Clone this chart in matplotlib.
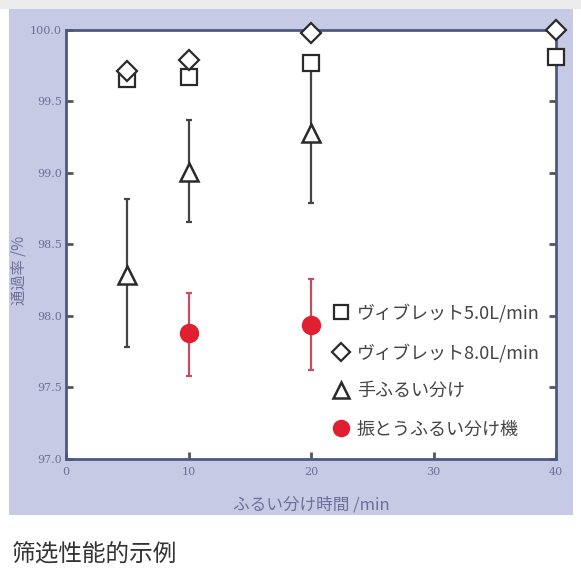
import matplotlib
matplotlib.use("Agg")
import matplotlib.pyplot as plt
from matplotlib.patches import Rectangle
import numpy as np

plt.rcParams['font.family'] = ['Noto Sans CJK JP', 'DejaVu Sans']

# data
x_sq = [5, 10, 20, 40]
y_sq = [99.66, 99.67, 99.77, 99.81]

x_di = [5, 10, 20, 40]
y_di = [99.71, 99.79, 99.98, 100.0]

x_tri = [5, 10, 20]
y_tri = [98.29, 99.01, 99.28]
tri_lo = [97.78, 98.66, 98.79]
tri_hi = [98.82, 99.37, 99.80]

x_red = [10, 20]
y_red = [97.88, 97.94]
red_lo = [97.58, 97.62]
red_hi = [98.16, 98.26]

x_ticks = [0, 10, 20, 30, 40]
y_ticks = [97.0, 97.5, 98.0, 98.5, 99.0, 99.5, 100.0]

labels = ['ヴィブレット5.0L/min', 'ヴィブレット8.0L/min', '手ふるい分け', '振とうふるい分け機']

W, H = 581, 576
fig = plt.figure(figsize=(W / 100, H / 100), dpi=100)
fig.patch.set_facecolor('white')

# background bands
fig.add_artist(Rectangle((0, 1 - 9 / H), 1, 9 / H, transform=fig.transFigure,
                         facecolor='#ececec', edgecolor='none', zorder=0))
fig.add_artist(Rectangle((9 / W, 1 - 515 / H), (573 - 9) / W, (515 - 9) / H,
                         transform=fig.transFigure, facecolor='#c6cae4',
                         edgecolor='none', zorder=0))

ax = fig.add_axes([66 / W, 1 - 459 / H, (556 - 66) / W, (459 - 30) / H])
ax.set_facecolor('white')

spine_c = '#4c5a82'
lab_c = '#6c7098'
ink = '#2a2a2a'

tri_err = [np.array(y_tri) - np.array(tri_lo), np.array(tri_hi) - np.array(y_tri)]
red_err = [np.array(y_red) - np.array(red_lo), np.array(red_hi) - np.array(y_red)]

ax.errorbar(x_tri, y_tri, yerr=tri_err, fmt='none', ecolor='#444444',
            elinewidth=1.6, capsize=2.5, capthick=1.6, zorder=2, clip_on=False)
ax.errorbar(x_red, y_red, yerr=red_err, fmt='none', ecolor='#c0505e',
            elinewidth=1.6, capsize=2.5, capthick=1.6, zorder=2, clip_on=False)

ax.plot(x_sq, y_sq, 's', ms=11, mfc='white', mec=ink, mew=1.6,
        linestyle='none', clip_on=False, zorder=3, label=labels[0])
ax.plot(x_di, y_di, 'D', ms=10, mfc='white', mec=ink, mew=1.6,
        linestyle='none', clip_on=False, zorder=4, label=labels[1])
ax.plot(x_tri, y_tri, '^', ms=13, mfc='white', mec=ink, mew=1.8,
        linestyle='none', clip_on=False, zorder=3, label=labels[2])
ax.plot(x_red, y_red, 'o', ms=14, mfc='#e02030', mec='#e02030', mew=0,
        linestyle='none', clip_on=False, zorder=3, label=labels[3])

ax.set_xlim(0, 40)
ax.set_ylim(97.0, 100.0)
ax.set_xticks(x_ticks)
ax.set_yticks(y_ticks)
ax.set_xticklabels([str(v) for v in x_ticks], family='DejaVu Serif')
ax.set_yticklabels([f'{v:.1f}' for v in y_ticks], family='DejaVu Serif')

for s in ax.spines.values():
    s.set_color(spine_c)
    s.set_linewidth(2)

ax.tick_params(axis='both', direction='in', length=5, width=2, color='#555555',
               labelsize=8, labelcolor=lab_c, top=False, right=True)
ax.tick_params(axis='y', pad=3)
ax.tick_params(axis='x', pad=6)

ax.set_ylabel('通過率 /%', color=lab_c, fontsize=11)
ax.yaxis.set_label_coords(-0.078, 0.44)
ax.set_xlabel('ふるい分け時間 /min', color=lab_c, fontsize=12, labelpad=14)

leg = ax.legend(loc='lower right', bbox_to_anchor=(1.0, 0.01), frameon=False,
                fontsize=13, labelspacing=1.12, handletextpad=0.35,
                handlelength=1.1, markerscale=0.9, borderaxespad=0.5)
for t in leg.get_texts():
    t.set_color('#444444')

fig.text(12 / W, 1 - 562 / H, '筛选性能的示例', fontsize=17, color='#333333',
         ha='left', va='baseline')

fig.savefig('out.png', dpi=100)
